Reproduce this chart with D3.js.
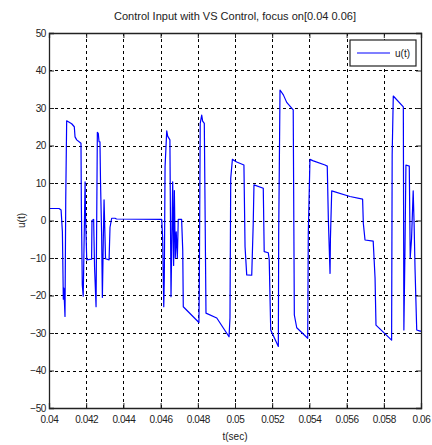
<!DOCTYPE html>
<html>
<head>
<meta charset="utf-8">
<script src="https://cdn.jsdelivr.net/npm/d3@7"></script>
<style>
  body { margin: 0; background: #fff; }
  text { font-family: "Liberation Sans", Arial, sans-serif; fill: #222; }
</style>
</head>
<body>
<div id="chart"></div>
<script>
// time samples (sec) and control input u(t)
const tVals = [
  0.04000, 0.04054, 0.04065, 0.04072, 0.04077, 0.04080, 0.04086, 0.04090, 0.04095, 0.04122,
  0.04136, 0.04140, 0.04149, 0.04172, 0.04174, 0.04179, 0.04184, 0.04190, 0.04194, 0.04197,
  0.04203, 0.04229, 0.04231, 0.04240, 0.04245, 0.04253, 0.04260, 0.04265, 0.04269, 0.04274,
  0.04277, 0.04283, 0.04287, 0.04292, 0.04296, 0.04301, 0.04304, 0.04323, 0.04328, 0.04337,
  0.04355, 0.04363, 0.04606, 0.04611, 0.04617, 0.04620, 0.04624, 0.04633, 0.04638, 0.04650,
  0.04656, 0.04665, 0.04670, 0.04674, 0.04679, 0.04684, 0.04690, 0.04695, 0.04713, 0.04719,
  0.04722, 0.04806, 0.04808, 0.04813, 0.04821, 0.04826, 0.04835, 0.04844, 0.04902, 0.04968,
  0.04973, 0.04977, 0.04986, 0.05009, 0.05048, 0.05054, 0.05063, 0.05090, 0.05098, 0.05102,
  0.05152, 0.05157, 0.05179, 0.05184, 0.05192, 0.05233, 0.05235, 0.05242, 0.05260, 0.05278,
  0.05313, 0.05319, 0.05332, 0.05391, 0.05394, 0.05403, 0.05421, 0.05484, 0.05496, 0.05502,
  0.05511, 0.05513, 0.05520, 0.05618, 0.05686, 0.05690, 0.05699, 0.05743, 0.05753, 0.05758,
  0.05842, 0.05845, 0.05851, 0.05905, 0.05908, 0.05914, 0.05919, 0.05937, 0.05942, 0.05949,
  0.05958, 0.05963, 0.05968, 0.05977, 0.05995, 0.06000
]
const uVals = [
  3.2, 3.2, 2.8, -3, -21, -18, -25.6, 5.5, 26.6, 25.8,
  25, 22.3, 21.5, 20.6, 3.7, -17.2, -20.2, -2, 10.3, 0,
  -10.5, -10.3, 0, 0.3, -12.5, -23, 23.5, 23.2, 21, 21,
  10.3, -4, -20.5, -5, 5.5, -4.3, -10.2, -10.5, -1.8, 0.6,
  0.6, 0.4, 0.3, -4.7, -23, -15, 14.3, 23.9, 22.5, 21.5,
  -20.3, 10.3, -12, 8, -10, -3, -10, 0.3, 0.3, -7.9,
  -23, -27.2, -18.5, 25.9, 28.1, 26.5, 25.9, -24.7, -26, -31,
  -26, 11.2, 16.3, 15.6, 14.8, -7, -14.5, -14.6, -0.8, 9.5,
  8.6, -8.3, -8.6, -10.5, -29.2, -33.6, -3.4, 34.8, 33.5, 31.5,
  29.5, -25.2, -28.6, -31.4, -3.4, 16.3, 15.9, 14.8, 14.5, 0.1,
  -14.1, -5, 7.9, 6.4, 5.7, -0.8, -5.2, -5.5, -15.4, -27.9,
  -31.9, 17.5, 33.2, 30.3, -29.2, -7, 14.8, 14.5, -10, -5,
  7.9, -1, -13, -29.2, -29.5, -29.5
]

const xTicks = [0.04, 0.042, 0.044, 0.046, 0.048, 0.05, 0.052, 0.054, 0.056, 0.058, 0.06]
const xTickLabels = ['0.04', '0.042', '0.044', '0.046', '0.048', '0.05', '0.052', '0.054', '0.056', '0.058', '0.06']
const yTicks = [-50, -40, -30, -20, -10, 0, 10, 20, 30, 40, 50]

const width = 432
const height = 445
const margin = { top: 33, right: 11, bottom: 37, left: 49 }

const svg = d3.select('#chart')
  .append('svg')
  .attr('width', width)
  .attr('height', height)

svg.append('rect')
  .attr('width', width)
  .attr('height', height)
  .attr('fill', '#fff')

const x = d3.scaleLinear()
  .domain([0.04, 0.06])
  .range([margin.left, width - margin.right])

const y = d3.scaleLinear()
  .domain([-50, 50])
  .range([height - margin.bottom, margin.top])

// dashed grid
const grid = svg.append('g')
  .attr('stroke', '#000')
  .attr('stroke-width', 1)
  .attr('stroke-dasharray', '3,3')

grid.selectAll('.vg')
  .data(xTicks.slice(1, -1))
  .enter()
  .append('line')
  .attr('x1', d => Math.round(x(d)) + 0.5)
  .attr('x2', d => Math.round(x(d)) + 0.5)
  .attr('y1', y(50))
  .attr('y2', y(-50))

grid.selectAll('.hg')
  .data(yTicks.slice(1, -1))
  .enter()
  .append('line')
  .attr('x1', x(0.04))
  .attr('x2', x(0.06))
  .attr('y1', d => Math.round(y(d)) + 0.5)
  .attr('y2', d => Math.round(y(d)) + 0.5)

// signal
const line = d3.line()
  .x((d, i) => x(tVals[i]))
  .y(d => y(d))

svg.append('path')
  .datum(uVals)
  .attr('d', line)
  .attr('fill', 'none')
  .attr('stroke', '#0000ff')
  .attr('stroke-width', 1.2)
  .attr('stroke-linejoin', 'round')

// axes, MATLAB style with inward ticks
const fmt = d => xTickLabels[xTicks.indexOf(d)]

const axBottom = svg.append('g')
  .attr('transform', `translate(0,${y(-50)})`)
  .call(d3.axisBottom(x).tickValues(xTicks).tickFormat(fmt).tickSize(-5).tickPadding(8))
const axTop = svg.append('g')
  .attr('transform', `translate(0,${y(50)})`)
  .call(d3.axisTop(x).tickValues(xTicks).tickFormat('').tickSize(-5))
const axLeft = svg.append('g')
  .attr('transform', `translate(${x(0.04)},0)`)
  .call(d3.axisLeft(y).tickValues(yTicks).tickSize(-5).tickPadding(3))
const axRight = svg.append('g')
  .attr('transform', `translate(${x(0.06)},0)`)
  .call(d3.axisRight(y).tickValues(yTicks).tickFormat('').tickSize(-5))

for (const ax of [axBottom, axTop, axLeft, axRight]) {
  ax.select('.domain').attr('stroke', '#222').attr('stroke-width', 1.3)
  ax.selectAll('.tick line').attr('stroke', '#222')
  ax.selectAll('text')
    .style('font-size', '10px')
    .style('letter-spacing', '-0.4px')
    .attr('fill', '#222')
}

// title and labels
svg.append('text')
  .attr('x', (x(0.04) + x(0.06)) / 2)
  .attr('y', 20)
  .attr('text-anchor', 'middle')
  .attr('textLength', 242)
  .attr('lengthAdjust', 'spacingAndGlyphs')
  .style('font-size', '11px')
  .text('Control Input with VS Control, focus on[0.04 0.06]')

svg.append('text')
  .attr('x', (x(0.04) + x(0.06)) / 2)
  .attr('y', 440)
  .attr('text-anchor', 'middle')
  .style('font-size', '10px')
  .text('t(sec)')

svg.append('text')
  .attr('transform', `translate(25,${y(0)}) rotate(-90)`)
  .attr('text-anchor', 'middle')
  .style('font-size', '10px')
  .text('u(t)')

// legend
const legend = svg.append('g')
  .attr('transform', 'translate(350,40)')

legend.append('rect')
  .attr('width', 66)
  .attr('height', 26)
  .attr('fill', '#fff')
  .attr('stroke', '#222')
  .attr('stroke-width', 1.2)

legend.append('line')
  .attr('x1', 7)
  .attr('x2', 40)
  .attr('y1', 13)
  .attr('y2', 13)
  .attr('stroke', '#0000ff')
  .attr('stroke-width', 1.2)

legend.append('text')
  .attr('x', 45)
  .attr('y', 17)
  .style('font-size', '10px')
  .text('u(t)')
</script>
</body>
</html>
